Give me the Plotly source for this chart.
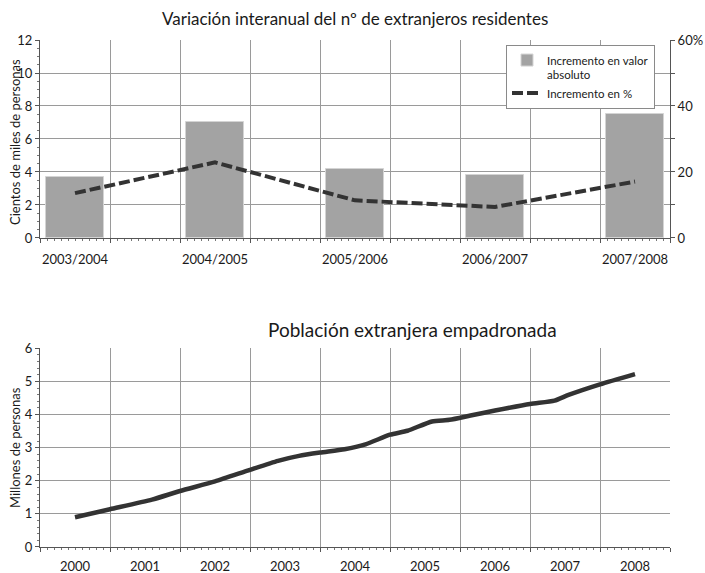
import plotly.graph_objects as go

# ---- Data ----
periodos = ["2003/2004", "2004/2005", "2005/2006", "2006/2007", "2007/2008"]
incremento_abs = [3.7, 7.0, 4.2, 3.8, 7.5]          # cientos de miles de personas
incremento_pct = [13.6, 22.9, 11.4, 9.4, 17.1]       # %

anios = [2000, 2001, 2002, 2003, 2004, 2005, 2006, 2007, 2008]
fecha = [2000.0, 2000.5, 2001.1, 2001.5, 2002.0, 2002.5, 2002.9, 2003.2, 2003.5,
         2003.85, 2004.15, 2004.5, 2004.75, 2005.1, 2005.35, 2005.65, 2006.0,
         2006.5, 2006.85, 2007.05, 2007.5, 2008.0]
poblacion = [0.90, 1.14, 1.43, 1.69, 1.98, 2.33, 2.60, 2.75, 2.85,
             2.95, 3.10, 3.39, 3.51, 3.79, 3.84, 3.97, 4.12,
             4.32, 4.42, 4.59, 4.91, 5.22]

FONT = "Lato"
GRID = "#9a9a9a"
AXL = "#555555"
TXT = "#1a1a1a"

idx = list(range(len(periodos)))

fig = go.Figure()
fig.add_trace(go.Bar(
    x=idx, y=incremento_abs, name="Incremento en valor<br>absoluto",
    marker=dict(color="#a3a3a3", line=dict(color="#d4d4d4", width=1)),
    width=0.42, xaxis="x", yaxis="y",
))
fig.add_trace(go.Scatter(
    x=idx, y=incremento_pct, name="Incremento en %", mode="lines",
    line=dict(color="#333333", width=4, dash="11px,4px"),
    xaxis="x", yaxis="y3",
))
fig.add_trace(go.Scatter(
    x=fecha, y=poblacion, mode="lines", showlegend=False,
    line=dict(color="#333333", width=4.5, shape="spline", smoothing=0.6),
    xaxis="x2", yaxis="y2",
))
# invisible helper traces so the label-only overlay axes get drawn
fig.add_trace(go.Scatter(x=[idx[0]], y=[None], mode="lines", showlegend=False,
                         hoverinfo="skip", xaxis="x3", yaxis="y"))
fig.add_trace(go.Scatter(x=[anios[0]], y=[None], mode="lines", showlegend=False,
                         hoverinfo="skip", xaxis="x4", yaxis="y2"))

n = len(periodos)
grid_top = [-0.25 + 0.5 * k for k in range(2 * n)]
grid_bot = [anios[0] - 0.5 + k for k in range(len(anios) + 1)]

tickfont = dict(family=FONT, size=13, color=TXT)

fig.update_layout(
    width=705, height=573,
    margin=dict(l=40, r=35, t=40, b=26),
    paper_bgcolor="white", plot_bgcolor="white",
    font=dict(family=FONT, color=TXT),
    showlegend=True,
    legend=dict(
        x=(506 - 40) / 630, y=0.99, xanchor="left", yanchor="top",
        bordercolor="#8a8a8a", borderwidth=1, bgcolor="white",
        font=dict(family=FONT, size=11.5, color=TXT), valign="top",
        tracegroupgap=0, itemwidth=30,
    ),
    bargap=0,
    xaxis=dict(
        domain=[0, 1], anchor="y", range=[-0.25, n - 0.75], automargin=False,
        tickvals=grid_top, showticklabels=False,
        showgrid=True, gridcolor=GRID, gridwidth=1,
        ticks="outside", ticklen=4, tickcolor=AXL,
        showline=True, linecolor=AXL, linewidth=1, zeroline=False,
        minor=dict(dtick=0.05, tick0=-0.25, ticks="outside", ticklen=2,
                   tickcolor="#777777", showgrid=False),
    ),
    xaxis3=dict(
        overlaying="x", anchor="y", range=[-0.25, n - 0.75], automargin=False,
        tickvals=idx, ticktext=periodos, tickfont=tickfont,
        ticks="outside", ticklen=9, tickcolor="rgba(0,0,0,0)",
        showgrid=False, showline=False, zeroline=False,
    ),
    yaxis=dict(
        domain=[0.6095, 1], anchor="x", range=[0, 12], dtick=2, automargin=False,
        tickfont=tickfont, showgrid=True, gridcolor=GRID, gridwidth=1,
        ticks="outside", ticklen=4, tickcolor=AXL,
        showline=True, linecolor=AXL, linewidth=1, zeroline=False,
        minor=dict(dtick=0.5, ticks="outside", ticklen=2, tickcolor="#777777",
                   showgrid=False),
    ),
    yaxis3=dict(
        overlaying="y", anchor="x", side="right", range=[0, 60], automargin=False,
        tickvals=[0, 10, 20, 30, 40, 50, 60],
        ticktext=["0", "", "20", "", "40", "", "60%"], tickfont=tickfont,
        showgrid=False, ticks="outside", ticklen=4, tickcolor=AXL,
        showline=True, linecolor=AXL, linewidth=1, zeroline=False,
    ),
    xaxis2=dict(
        domain=[0, 1], anchor="y2", range=[anios[0] - 0.5, anios[-1] + 0.5],
        automargin=False,
        tickvals=grid_bot, showticklabels=False,
        showgrid=True, gridcolor=GRID, gridwidth=1,
        ticks="outside", ticklen=4, tickcolor=AXL,
        showline=True, linecolor=AXL, linewidth=1, zeroline=False,
        minor=dict(dtick=0.1, tick0=anios[0] - 0.5, ticks="outside", ticklen=2,
                   tickcolor="#777777", showgrid=False),
    ),
    xaxis4=dict(
        overlaying="x2", anchor="y2", range=[anios[0] - 0.5, anios[-1] + 0.5],
        automargin=False,
        tickvals=anios, ticktext=[str(a) for a in anios], tickfont=tickfont,
        ticks="outside", ticklen=7, tickcolor="rgba(0,0,0,0)",
        showgrid=False, showline=False, zeroline=False,
    ),
    yaxis2=dict(
        domain=[0, 0.392], anchor="x2", range=[0, 6], dtick=1, automargin=False,
        tickfont=tickfont, showgrid=True, gridcolor=GRID, gridwidth=1,
        ticks="outside", ticklen=4, tickcolor=AXL,
        showline=True, linecolor=AXL, linewidth=1, zeroline=False,
        minor=dict(dtick=0.2, ticks="outside", ticklen=2, tickcolor="#777777",
                   showgrid=False),
    ),
    annotations=[
        dict(text="Variación interanual del nº de extranjeros residentes",
             x=0.5, y=(547 - 18) / 507, xref="paper", yref="paper",
             xanchor="center", yanchor="middle", showarrow=False,
             font=dict(family=FONT, size=17, color=TXT)),
        dict(text="Población extranjera empadronada",
             x=(412 - 40) / 630, y=(547 - 329) / 507, xref="paper", yref="paper",
             xanchor="center", yanchor="middle", showarrow=False,
             font=dict(family=FONT, size=19, color=TXT)),
        dict(text="Cientos de miles de personas", textangle=-90,
             x=0, xshift=-25, y=(547 - 142) / 507, xref="paper", yref="paper",
             xanchor="center", yanchor="middle", showarrow=False,
             font=dict(family=FONT, size=13, color=TXT)),
        dict(text="Millones de personas", textangle=-90,
             x=0, xshift=-25, y=(547 - 448) / 507, xref="paper", yref="paper",
             xanchor="center", yanchor="middle", showarrow=False,
             font=dict(family=FONT, size=13, color=TXT)),
    ],
)

fig.write_html(
    "out.html",
    config={"displayModeBar": False},
    post_script="document.body.style.margin='0';document.body.style.padding='0';",
)
